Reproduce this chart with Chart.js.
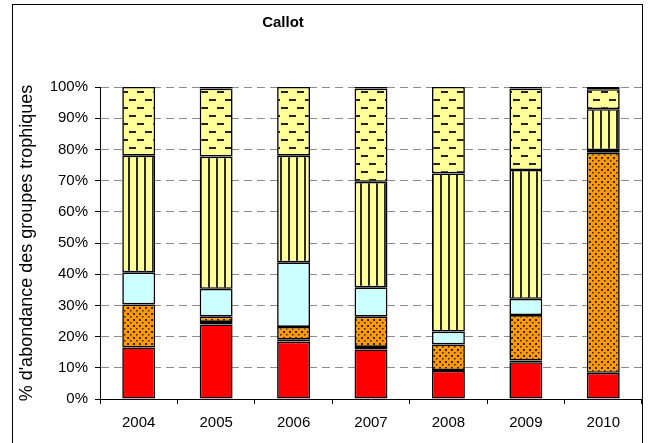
<!DOCTYPE html>
<html lang="fr">
<head>
    <meta charset="UTF-8">
    <title>Callot</title>
    <script src="https://cdn.jsdelivr.net/npm/chart.js"></script>
    <style>
        body { margin: 0; background: #fff; }
    </style>
</head>
<body>
    <canvas id="callotChart" width="650" height="443"></canvas>

    <script>
        // Data (% abundance per trophic group, stacked bottom -> top)
        var years = ['2004', '2005', '2006', '2007', '2008', '2009', '2010'];
        var groupRed    = [16.5, 23.9, 18.4, 15.9, 9.0, 11.8, 8.4];
        var groupDark   = [0, 0.8, 0.6, 0.8, 0.3, 0.5, 0];
        var groupOrange = [13.8, 1.7, 4.1, 9.7, 8.2, 14.6, 70.5];
        var groupCyan   = [10.3, 8.9, 20.7, 9.4, 4.1, 5.2, 0.9];
        var groupStripe = [37.4, 42.4, 34.2, 33.8, 50.7, 41.3, 13.1];
        var groupDash   = [22.0, 21.8, 22.0, 29.9, 27.7, 26.1, 6.4];
        var groupTop    = [0, 0.5, 0, 0.5, 0, 0.5, 0.7];
        var yTicks = [0, 10, 20, 30, 40, 50, 60, 70, 80, 90, 100];

        var fontFamily = "Arial, 'Liberation Sans', sans-serif";

        // Small helper to build a fill pattern from a tile
        function makePattern(w, h, draw) {
            var c = document.createElement('canvas');
            c.width = w;
            c.height = h;
            var g = c.getContext('2d');
            draw(g);
            return document.getElementById('callotChart').getContext('2d').createPattern(c, 'repeat');
        }

        // orange with small dark dots
        var dotPattern = makePattern(6, 6, function (g) {
            g.fillStyle = '#FF9900';
            g.fillRect(0, 0, 6, 6);
            g.fillStyle = '#3a2200';
            g.fillRect(1, 1, 2, 2);
            g.fillRect(4, 4, 1.5, 1.5);
        });

        // pale yellow with vertical stripes
        var stripePattern = makePattern(8, 8, function (g) {
            g.fillStyle = '#FFFF99';
            g.fillRect(0, 0, 8, 8);
            g.fillStyle = '#2a2a2a';
            g.fillRect(0, 0, 2, 8);
        });

        // pale yellow with staggered short dashes
        var dashPattern = makePattern(16, 16, function (g) {
            g.fillStyle = '#FFFF99';
            g.fillRect(0, 0, 16, 16);
            g.fillStyle = '#222222';
            g.fillRect(1, 3, 7, 2);
            g.fillRect(9, 11, 7, 2);
        });

        // outer frame and the title, which sits left of centre
        var framePlugin = {
            id: 'frame',
            afterDraw: function (chart) {
                var ctx = chart.ctx;
                ctx.save();
                ctx.strokeStyle = '#000';
                ctx.lineWidth = 1;
                ctx.strokeRect(12.5, 4.5, 630, 460);
                ctx.fillStyle = '#000';
                ctx.font = 'bold 15px ' + fontFamily;
                ctx.textAlign = 'center';
                ctx.textBaseline = 'middle';
                ctx.fillText('Callot', 283, 23);
                ctx.restore();
            }
        };

        function dataset(label, data, bg) {
            return {
                label: label,
                data: data,
                backgroundColor: bg,
                borderColor: '#000',
                borderWidth: 1.6,
                borderSkipped: false,
                barPercentage: 0.85,
                categoryPercentage: 0.5
            };
        }

        var myChart = new Chart(document.getElementById('callotChart').getContext('2d'), {
            type: 'bar',
            data: {
                labels: years,
                datasets: [
                    dataset('Groupe 1', groupRed, '#FF0000'),
                    dataset('Groupe 2', groupDark, '#663366'),
                    dataset('Groupe 3', groupOrange, dotPattern),
                    dataset('Groupe 4', groupCyan, '#CCFFFF'),
                    dataset('Groupe 5', groupStripe, stripePattern),
                    dataset('Groupe 6', groupDash, dashPattern),
                    dataset('Groupe 7', groupTop, '#000000')
                ]
            },
            options: {
                responsive: false,
                animation: false,
                devicePixelRatio: 1,
                layout: { padding: { left: 0, right: 8, top: 87, bottom: 0 } },
                plugins: {
                    legend: { display: false },
                    tooltip: { enabled: false },
                    title: { display: false }
                },
                scales: {
                    x: {
                        stacked: true,
                        afterFit: function (s) { s.height = 44; },
                        grid: {
                            drawOnChartArea: false,
                            drawTicks: true,
                            tickLength: 5,
                            tickColor: '#000'
                        },
                        border: { display: true, color: '#000', width: 1 },
                        ticks: {
                            color: '#000',
                            padding: 10,
                            maxRotation: 0,
                            font: { family: fontFamily, size: 15 }
                        }
                    },
                    y: {
                        stacked: true,
                        min: 0,
                        max: 100,
                        afterFit: function (s) { s.width = 100; },
                        afterBuildTicks: function (s) {
                            s.ticks = yTicks.map(function (v) { return { value: v }; });
                        },
                        grid: {
                            color: '#8c8c8c',
                            lineWidth: 1,
                            tickLength: 5,
                            tickColor: '#000',
                            tickBorderDash: []
                        },
                        border: { display: true, color: '#000', width: 1, dash: [8, 5] },
                        ticks: {
                            color: '#000',
                            padding: 7,
                            font: { family: fontFamily, size: 15 },
                            callback: function (v) { return v + '%'; }
                        },
                        title: {
                            display: true,
                            text: "% d'abondance des groupes trophiques",
                            color: '#000',
                            font: { family: fontFamily, size: 18, lineHeight: 1.2 },
                            padding: { top: 16, bottom: 0 }
                        }
                    }
                }
            },
            plugins: [framePlugin]
        });
    </script>
</body>
</html>
